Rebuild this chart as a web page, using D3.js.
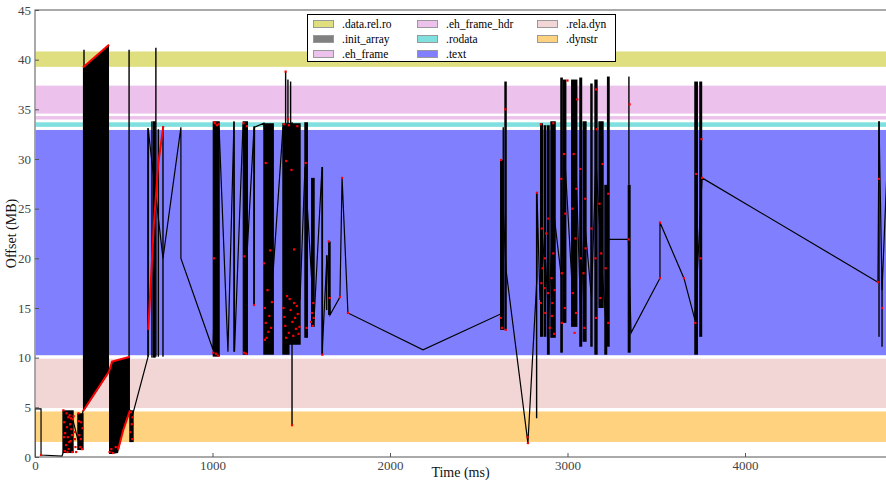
<!DOCTYPE html>
<html>
<head>
<meta charset="utf-8">
<script src="https://cdn.jsdelivr.net/npm/d3@7"></script>
<style>
  body { margin: 0; background: #fff; }
  svg { display: block; font-family: "Liberation Serif", "DejaVu Serif", serif; }
</style>
</head>
<body>
<div id="chart"></div>
<script>
// section layout in the file (MB)
const sections = ['.data.rel.ro', '.init_array', '.eh_frame', '.eh_frame_hdr', '.rodata', '.text', '.rela.dyn', '.dynstr'];
const sectionLo = [39.2, null, 34.5, 33.9, 33.16, 10.17, 4.86, 1.44];
const sectionHi = [40.9, null, 37.46, 34.4, 33.77, 33.0, 9.97, 4.66];
const sectionColors = ['#dfdf80', '#808080', '#ecc2ec', '#ecc2ec', '#80dfdf', '#8080ff', '#f2d6d6', '#ffd280'];

const xTicks = [0, 1000, 2000, 3000, 4000];
const yTicks = [0, 5, 10, 15, 20, 25, 30, 35, 40, 45];

// access trace: [time ms, offset MB]
const trace = [
  [0, 0], [0, 4.84], [34, 4.84], [34, 0.2], [152, 0.1], [158, 0.4], [214, 3.7], [242, 1.7], [270, 4.6],
  [417, 8.6], [535, 4.7], [552, 4.4], [637, 10.1], [637, 33.1], [721, 20.0], [822, 33.2], [822, 20.0],
  [1003, 10.8], [1037, 33.2], [1087, 10.6], [1121, 33.7], [1124, 10.6], [1172, 33.5], [1194, 20.2],
  [1234, 33.2], [1234, 15.3], [1237, 33.2], [1290, 33.6], [1341, 18.5], [1397, 33.2], [1493, 15.8],
  [1521, 29.2], [1572, 13.8], [1617, 29.2], [1617, 10.3], [1645, 20.3], [1662, 14.3], [1718, 16.1],
  [1730, 28.1], [1763, 14.5], [2186, 10.8], [2624, 14.4], [2625, 29.9], [2654, 18.8], [2777, 1.4],
  [2828, 18.1], [2828, 26.6], [2845, 15.8], [2870, 22.0], [2893, 14.0], [2920, 25.0], [2966, 18.0],
  [2985, 30.0], [3030, 16.0], [3050, 28.0], [3075, 14.0], [3095, 24.0], [3135, 16.0], [3160, 30.0],
  [3190, 20.0], [3215, 14.0], [3232, 21.9], [3343, 21.9], [3358, 12.5], [3521, 18.0],
  [3521, 23.6], [3656, 18.0], [3718, 13.8], [3758, 28.1], [4749, 17.6], [4755, 33.8], [4772, 16.8],
  [4800, 28.9]
];

// dense bursts of accesses: [t0, t1, low MB, high MB]
const bursts = [
  [158, 214, 0.4, 4.7], [242, 270, 0.7, 4.4], [276, 276, 39.2, 41.0], [530, 530, 10.1, 41.0],
  [535, 552, 1.5, 4.7], [637, 637, 10.1, 33.1], [659, 659, 10.0, 33.8], [668, 676, 10.0, 33.8],
  [681, 681, 10.1, 41.2], [695, 695, 10.1, 33.0], [721, 721, 10.1, 33.3],
  [1005, 1037, 10.1, 33.8], [1121, 1121, 10.6, 33.8], [1174, 1196, 10.3, 33.8], [1234, 1234, 15.3, 33.3],
  [1290, 1342, 10.3, 33.6], [1397, 1430, 10.3, 33.6], [1412, 1412, 33.0, 38.8], [1425, 1425, 33.0, 38.0],
  [1440, 1440, 33.0, 37.8], [1448, 1448, 3.2, 33.7], [1430, 1493, 11.3, 33.6], [1521, 1534, 12.0, 33.7],
  [1559, 1572, 13.1, 28.1], [1619, 1619, 10.3, 29.2], [1643, 1643, 14.8, 20.3], [1655, 1662, 14.3, 21.7],
  [2624, 2635, 12.8, 29.9], [2638, 2638, 12.8, 33.2], [2648, 2654, 12.8, 37.8], [2826, 2826, 3.9, 26.6],
  [2849, 2858, 12.1, 33.6], [2869, 2877, 12.1, 33.4], [2888, 2896, 10.3, 33.4], [2907, 2930, 12.0, 33.8],
  [2963, 2970, 10.5, 38.2], [2978, 2990, 13.5, 38.0], [3024, 3052, 13.1, 38.0], [3070, 3079, 11.1, 38.2],
  [3089, 3104, 11.6, 33.8], [3132, 3138, 11.1, 37.6], [3155, 3166, 10.3, 38.0], [3178, 3200, 15.0, 33.8],
  [3211, 3220, 10.3, 27.4], [3226, 3234, 11.1, 38.3], [3343, 3352, 10.5, 27.4], [3346, 3346, 27.4, 38.3],
  [3718, 3731, 10.3, 37.8], [3746, 3755, 12.1, 37.8], [4755, 4755, 12.1, 33.8], [4772, 4772, 11.1, 18.3]
];

// sweeping blocks: [time, low MB, high MB]
const sweepC = [[270, 4.6, 39.2], [417, 8.6, 41.5]];
const sweepD = [[417, 0.3, 8.6], [434, 0.3, 9.6], [468, 0.4, 9.8], [497, 2.7, 9.95], [535, 4.7, 10.1]];

// sequential reads drawn as red runs
const redRuns = [
  [[270, 4.6], [417, 8.6]],
  [[270, 39.2], [417, 41.5]],
  [[417, 8.6], [434, 9.6], [535, 10.1]],
  [[468, 0.7], [497, 2.7], [535, 4.7]],
  [[638, 12.8], [670, 23.5], [695, 29.6], [723, 33.3]]
];

const redDots = [
  [34, 0.2], [160, 4.7], [165, 3.5], [170, 2.4], [175, 1.2], [180, 3.0], [185, 2.0], [190, 0.8], [195, 4.2],
  [200, 1.6], [205, 2.8], [210, 0.5], [213, 3.8], [168, 0.6], [188, 4.0], [198, 3.3], [222, 2.5], [228, 1.0],
  [232, 0.5], [245, 4.4], [250, 2.2], [255, 1.0], [260, 3.5], [265, 0.8], [420, 0.5], [430, 0.8], [440, 0.4],
  [455, 1.0], [537, 2.5], [540, 4.5], [545, 3.3], [548, 1.8], [550, 4.0], [163, 2.0], [178, 4.4], [183, 0.5],
  [193, 1.5], [203, 3.9], [208, 2.2], [248, 3.6], [258, 1.8], [268, 2.9], [225, 1.8], [218, 4.1],
  [1005, 10.5], [1010, 33.7], [1030, 10.2], [1035, 33.5], [1008, 20.0], [1175, 33.6], [1190, 10.4], [1180, 20.2],
  [1015, 33.6], [1020, 10.4], [1025, 33.4], [1194, 33.3], [1178, 10.5],
  [1234, 15.3], [1290, 19.5], [1295, 15.0], [1300, 13.5], [1305, 12.0], [1310, 16.8], [1320, 14.2], [1330, 13.0],
  [1300, 29.6], [1325, 20.8], [1400, 15.0], [1410, 13.2], [1420, 16.2], [1430, 12.5], [1440, 14.8], [1450, 13.6],
  [1460, 15.5], [1470, 12.9], [1480, 14.4], [1490, 13.1], [1415, 29.8], [1445, 28.9], [1460, 20.9], [1425, 34.0],
  [1448, 3.2], [1525, 29.6], [1530, 13.0], [1560, 14.5], [1565, 13.2], [1570, 14.0], [1619, 10.3], [1655, 21.7],
  [1660, 16.0], [1718, 16.1], [1730, 28.1], [1763, 14.5], [1295, 11.8], [1315, 12.6], [1335, 15.6],
  [1405, 14.1], [1415, 12.0], [1435, 15.9], [1455, 12.2], [1465, 14.0], [1475, 15.2], [1485, 12.4], [1412, 38.8],
  [1402, 33.5], [1430, 33.4], [1478, 33.3], [1555, 13.6], [1568, 15.5],
  [2624, 14.0], [2626, 29.9], [2630, 13.0], [2650, 35.0], [2652, 12.8], [2777, 1.4], [2775, 2.0], [2828, 26.6],
  [2850, 15.5], [2855, 23.0], [2860, 19.0], [2870, 17.0], [2875, 14.5], [2880, 22.5], [2890, 16.5], [2900, 13.0],
  [2910, 18.0], [2915, 15.5], [2920, 20.5], [2925, 12.4], [2965, 28.0], [2968, 13.5], [2980, 30.5], [2985, 15.0],
  [3030, 16.5], [3040, 12.5], [3045, 22.0], [3050, 27.0], [3035, 30.5], [3075, 20.0], [3090, 18.5], [3100, 26.0],
  [3135, 23.0], [3160, 14.0], [3165, 33.0], [3180, 25.5], [3190, 20.5], [3215, 19.0], [3230, 26.5], [3345, 21.9],
  [3350, 35.5], [2850, 33.5], [2920, 33.6], [3000, 37.9], [3055, 36.0], [3160, 37.0],
  [2853, 17.5], [2873, 20.0], [2892, 24.0], [2912, 14.2], [2928, 16.8], [2968, 18.5], [2988, 24.5], [3028, 25.0],
  [3048, 14.5], [3072, 29.0], [3095, 13.0], [3102, 21.0], [3158, 20.0], [3185, 16.0], [3198, 29.5], [3230, 13.5],
  [3521, 23.6], [3521, 18.0], [3656, 18.0], [3720, 13.5], [3725, 28.5], [3750, 20.0], [3755, 32.0], [3758, 28.1],
  [4749, 17.6], [4755, 28.0], [4772, 15.0]
];

const W = 886, H = 482;
const margin = { left: 35, right: -1, top: 10, bottom: 25 };

const svg = d3.select('#chart').append('svg').attr('width', W).attr('height', H);

const x = d3.scaleLinear().domain([0, 4800]).range([margin.left, W - margin.right]);
const y = d3.scaleLinear().domain([0, 45]).range([H - margin.bottom, margin.top]);

svg.append('clipPath').attr('id', 'plot-clip')
  .append('rect')
  .attr('x', x(0)).attr('y', y(45))
  .attr('width', x(4800) - x(0)).attr('height', y(0) - y(45));

const plot = svg.append('g').attr('clip-path', 'url(#plot-clip)');

// section bands
plot.selectAll('.band')
  .data(sections.map((s, i) => ({ name: s, lo: sectionLo[i], hi: sectionHi[i], color: sectionColors[i] }))
    .filter(d => d.lo !== null))
  .enter().append('rect')
  .attr('class', 'band')
  .attr('x', x(0)).attr('width', x(4800) - x(0))
  .attr('y', d => y(d.hi)).attr('height', d => y(d.lo) - y(d.hi))
  .attr('fill', d => d.color)
  .attr('stroke', '#fff').attr('stroke-width', 1.5);

// sweeping blocks
const area = d3.area().x(d => x(d[0])).y0(d => y(d[1])).y1(d => y(d[2]));
plot.selectAll('.sweep').data([sweepC, sweepD]).enter().append('path')
  .attr('d', area).attr('fill', '#000');

// bursts
plot.selectAll('.burst').data(bursts).enter().append('rect')
  .attr('x', d => x(d[0]) - 0.7)
  .attr('width', d => Math.max(1.4, x(d[1]) - x(d[0]) + 1.4))
  .attr('y', d => y(d[3]))
  .attr('height', d => y(d[2]) - y(d[3]))
  .attr('fill', '#000');

// trace line
const line = d3.line().x(d => x(d[0])).y(d => y(d[1]));
plot.append('path').datum(trace)
  .attr('d', line).attr('fill', 'none')
  .attr('stroke', '#000').attr('stroke-width', 1.2);

// red runs
plot.selectAll('.run').data(redRuns).enter().append('path')
  .attr('d', line).attr('fill', 'none')
  .attr('stroke', '#ff0000').attr('stroke-width', 2);

// red markers
plot.selectAll('.dot').data(redDots).enter().append('rect')
  .attr('x', d => x(d[0]) - 1.1).attr('y', d => y(d[1]) - 1.1)
  .attr('width', 2.2).attr('height', 2.2)
  .attr('fill', '#ff0000');

// frame
svg.append('rect')
  .attr('x', x(0)).attr('y', y(45))
  .attr('width', x(4800) - x(0) + 5).attr('height', y(0) - y(45))
  .attr('fill', 'none').attr('stroke', '#555').attr('stroke-width', 1);

// axes
const xAxis = svg.append('g')
  .attr('transform', `translate(0,${y(0)})`)
  .call(d3.axisBottom(x).tickValues(xTicks).tickFormat(d3.format('d'))
    .tickSizeInner(-4).tickSizeOuter(0).tickPadding(4));
const yAxis = svg.append('g')
  .attr('transform', `translate(${x(0)},0)`)
  .call(d3.axisLeft(y).tickValues(yTicks).tickFormat(d3.format('d'))
    .tickSizeInner(-4).tickSizeOuter(0).tickPadding(4));

[xAxis, yAxis].forEach(g => {
  g.select('.domain').remove();
  g.selectAll('.tick line').attr('stroke', '#555');
  g.selectAll('.tick text')
    .attr('fill', '#444')
    .style('font-family', '"Liberation Serif", serif')
    .style('font-size', '13px');
});

svg.append('text')
  .attr('x', (x(0) + 886) / 2).attr('y', 477)
  .attr('text-anchor', 'middle')
  .style('font-size', '14px').attr('fill', '#111')
  .text('Time (ms)');

svg.append('text')
  .attr('transform', `translate(16,${(y(0) + y(45)) / 2}) rotate(-90)`)
  .attr('text-anchor', 'middle')
  .style('font-size', '14px').attr('fill', '#111')
  .text('Offset (MB)');

// legend
const legend = svg.append('g');
legend.append('rect')
  .attr('x', 307.5).attr('y', 14.5).attr('width', 308).attr('height', 47)
  .attr('fill', '#fff').attr('stroke', '#000').attr('stroke-width', 1);

const colX = [313, 417, 537];
const rowY = [24, 39, 54];
sections.forEach((name, i) => {
  const col = Math.floor(i / 3), row = i % 3;
  const g = legend.append('g').attr('transform', `translate(${colX[col]},${rowY[row]})`);
  g.append('rect')
    .attr('x', 0.5).attr('y', -3.5).attr('width', 20).attr('height', 7)
    .attr('fill', sectionColors[i]).attr('stroke', '#999').attr('stroke-width', 1);
  g.append('text')
    .attr('x', 29).attr('y', 4)
    .style('font-size', '11.5px').attr('fill', '#000')
    .text(name);
});
</script>
</body>
</html>
